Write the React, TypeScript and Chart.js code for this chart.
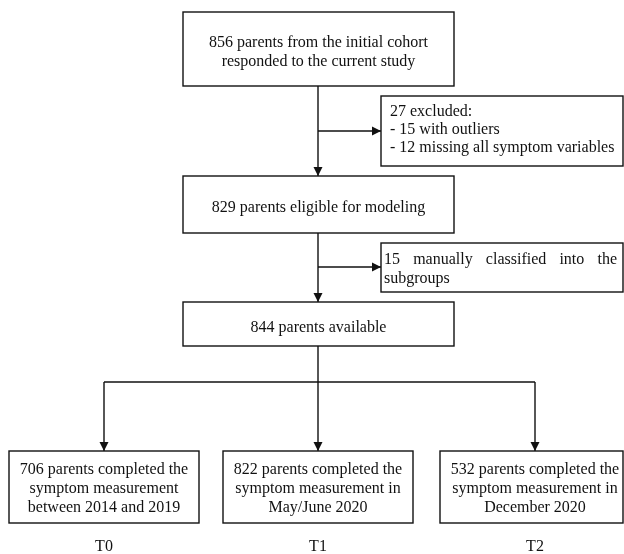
import { useEffect, useRef } from "react";
import { Chart, registerables } from "chart.js";

Chart.register(...registerables);

// ---- content (values) ----
const mainStepCounts = [856, 829, 844];
const mainStepLines = [
  [`${mainStepCounts[0]} parents from the initial cohort`, "responded to the current study"],
  [`${mainStepCounts[1]} parents eligible for modeling`],
  [`${mainStepCounts[2]} parents available`],
];
const excludedCounts = [27, 15, 12];
const classifiedCount = 15;
const sideLines = [
  [`${excludedCounts[0]} excluded:`, `- ${excludedCounts[1]} with outliers`, `- ${excludedCounts[2]} missing all symptom variables`],
  [`${classifiedCount} manually classified into the`, "subgroups"],
];
const waveCounts = [706, 822, 532];
const waveLines = [
  [`${waveCounts[0]} parents completed the`, "symptom measurement", "between 2014 and 2019"],
  [`${waveCounts[1]} parents completed the`, "symptom measurement in", "May/June 2020"],
  [`${waveCounts[2]} parents completed the`, "symptom measurement in", "December 2020"],
];
const waveLabels = ["T0", "T1", "T2"];

// ---- layout (in frame units) ----
const FRAME_W = 624;
const FRAME_H = 554;
const spineX = 318;
const mainBoxes = [
  { x0: 183, x1: 454, y0: 12, y1: 86 },
  { x0: 183, x1: 454, y0: 176, y1: 233 },
  { x0: 183, x1: 454, y0: 302, y1: 346 },
];
const sideBoxes = [
  { x0: 381, x1: 623, y0: 96, y1: 166, lineH: 18, padL: 9, padR: 9, justify: false, off: -1 },
  { x0: 381, x1: 623, y0: 243, y1: 292, lineH: 19, padL: 3, padR: 6, justify: true, off: 1.5 },
];
const sideBranchY = [131, 267];
const waveCenters = [104, 318, 535];
const waveBoxW = 190;
const waveBoxY = [451, 523];
const forkY = 382;
const waveLabelY = 547;
const FONT = "16px 'Liberation Serif', 'Times New Roman', serif";
const INK = "#111";

type Seg = { x: number; y: number }[];

function connectors(): Seg[] {
  const segs: Seg[] = [];
  segs.push([{ x: spineX, y: mainBoxes[0].y1 }, { x: spineX, y: mainBoxes[1].y0 }]);
  segs.push([{ x: spineX, y: sideBranchY[0] }, { x: sideBoxes[0].x0, y: sideBranchY[0] }]);
  segs.push([{ x: spineX, y: mainBoxes[1].y1 }, { x: spineX, y: mainBoxes[2].y0 }]);
  segs.push([{ x: spineX, y: sideBranchY[1] }, { x: sideBoxes[1].x0, y: sideBranchY[1] }]);
  segs.push([{ x: spineX, y: mainBoxes[2].y1 }, { x: spineX, y: forkY }]);
  segs.push([{ x: waveCenters[0], y: forkY }, { x: waveCenters[2], y: forkY }]);
  waveCenters.forEach((c) => segs.push([{ x: c, y: forkY }, { x: c, y: waveBoxY[0] }]));
  return segs;
}

const arrowTips: { x: number; y: number; dir: "down" | "right" }[] = [
  { x: spineX, y: mainBoxes[1].y0, dir: "down" },
  { x: sideBoxes[0].x0, y: sideBranchY[0], dir: "right" },
  { x: spineX, y: mainBoxes[2].y0, dir: "down" },
  { x: sideBoxes[1].x0, y: sideBranchY[1], dir: "right" },
  ...waveCenters.map((c) => ({ x: c, y: waveBoxY[0], dir: "down" as const })),
];

const flowPlugin = {
  id: "flow",
  afterDatasetsDraw(chart: any) {
    const ctx: CanvasRenderingContext2D = chart.ctx;
    const xs = chart.scales.x;
    const ys = chart.scales.y;
    const px = (v: number) => xs.getPixelForValue(v);
    const py = (v: number) => ys.getPixelForValue(v);
    ctx.save();
    ctx.strokeStyle = INK;
    ctx.fillStyle = INK;
    ctx.lineWidth = 1.4;

    const rect = (x0: number, y0: number, x1: number, y1: number) => {
      ctx.strokeRect(px(x0), py(y0), px(x1) - px(x0), py(y1) - py(y0));
    };

    ctx.font = FONT;
    ctx.textBaseline = "middle";

    const centeredLines = (lines: string[], cx: number, cy: number, lh: number) => {
      ctx.textAlign = "center";
      const n = lines.length;
      lines.forEach((t, i) => {
        ctx.fillText(t, px(cx), py(cy + (i - (n - 1) / 2) * lh));
      });
    };

    // main boxes
    mainBoxes.forEach((b, i) => {
      rect(b.x0, b.y0, b.x1, b.y1);
      centeredLines(mainStepLines[i], (b.x0 + b.x1) / 2, (b.y0 + b.y1) / 2 + 3.5, 19);
    });

    // side boxes
    sideBoxes.forEach((b, i) => {
      rect(b.x0, b.y0, b.x1, b.y1);
      const lines = sideLines[i];
      const n = lines.length;
      const cy = (b.y0 + b.y1) / 2 + b.off;
      ctx.textAlign = "left";
      lines.forEach((t, j) => {
        const y = py(cy + (j - (n - 1) / 2) * b.lineH);
        const left = px(b.x0 + b.padL);
        const right = px(b.x1 - b.padR);
        if (b.justify && j < n - 1) {
          const words = t.split(" ");
          const widths = words.map((w) => ctx.measureText(w).width);
          const total = widths.reduce((a, c) => a + c, 0);
          const gap = (right - left - total) / (words.length - 1);
          let x = left;
          words.forEach((w, k) => {
            ctx.fillText(w, x, y);
            x += widths[k] + gap;
          });
        } else {
          ctx.fillText(t, left, y);
        }
      });
    });

    // wave boxes + labels
    waveCenters.forEach((c, i) => {
      const x0 = c - waveBoxW / 2;
      const x1 = Math.min(c + waveBoxW / 2, FRAME_W - 1);
      rect(x0, waveBoxY[0], x1, waveBoxY[1]);
      centeredLines(waveLines[i], c, (waveBoxY[0] + waveBoxY[1]) / 2 + 1.5, 19);
      ctx.textAlign = "center";
      ctx.fillText(waveLabels[i], px(c), py(waveLabelY));
    });

    // arrow heads
    const L = 9;
    const H = 4.5;
    arrowTips.forEach((a) => {
      const x = px(a.x);
      const y = py(a.y);
      ctx.beginPath();
      if (a.dir === "down") {
        ctx.moveTo(x, y);
        ctx.lineTo(x - H, y - L);
        ctx.lineTo(x + H, y - L);
      } else {
        ctx.moveTo(x, y);
        ctx.lineTo(x - L, y - H);
        ctx.lineTo(x - L, y + H);
      }
      ctx.closePath();
      ctx.fill();
    });
    ctx.restore();
  },
};

export default function App() {
  const ref = useRef<HTMLCanvasElement | null>(null);
  useEffect(() => {
    document.body.style.margin = "0";
    document.body.style.background = "#fff";
    if (!ref.current) return;
    const datasets = connectors().map((seg) => ({
      type: "scatter" as const,
      data: seg,
      showLine: true,
      pointRadius: 0,
      borderColor: INK,
      borderWidth: 1.4,
      fill: false,
      tension: 0,
    }));
    const chart = new Chart(ref.current, {
      type: "scatter",
      data: { datasets },
      options: {
        animation: false,
        responsive: true,
        maintainAspectRatio: false,
        events: [],
        layout: { padding: 0 },
        plugins: { legend: { display: false }, tooltip: { enabled: false } },
        scales: {
          x: { type: "linear", min: 0, max: FRAME_W, display: false },
          y: { type: "linear", min: 0, max: FRAME_H, reverse: true, display: false },
        },
      },
      plugins: [flowPlugin],
    });
    return () => chart.destroy();
  }, []);
  return (
    <div style={{ width: FRAME_W, height: FRAME_H, position: "relative", background: "#fff" }}>
      <canvas ref={ref} />
    </div>
  );
}
